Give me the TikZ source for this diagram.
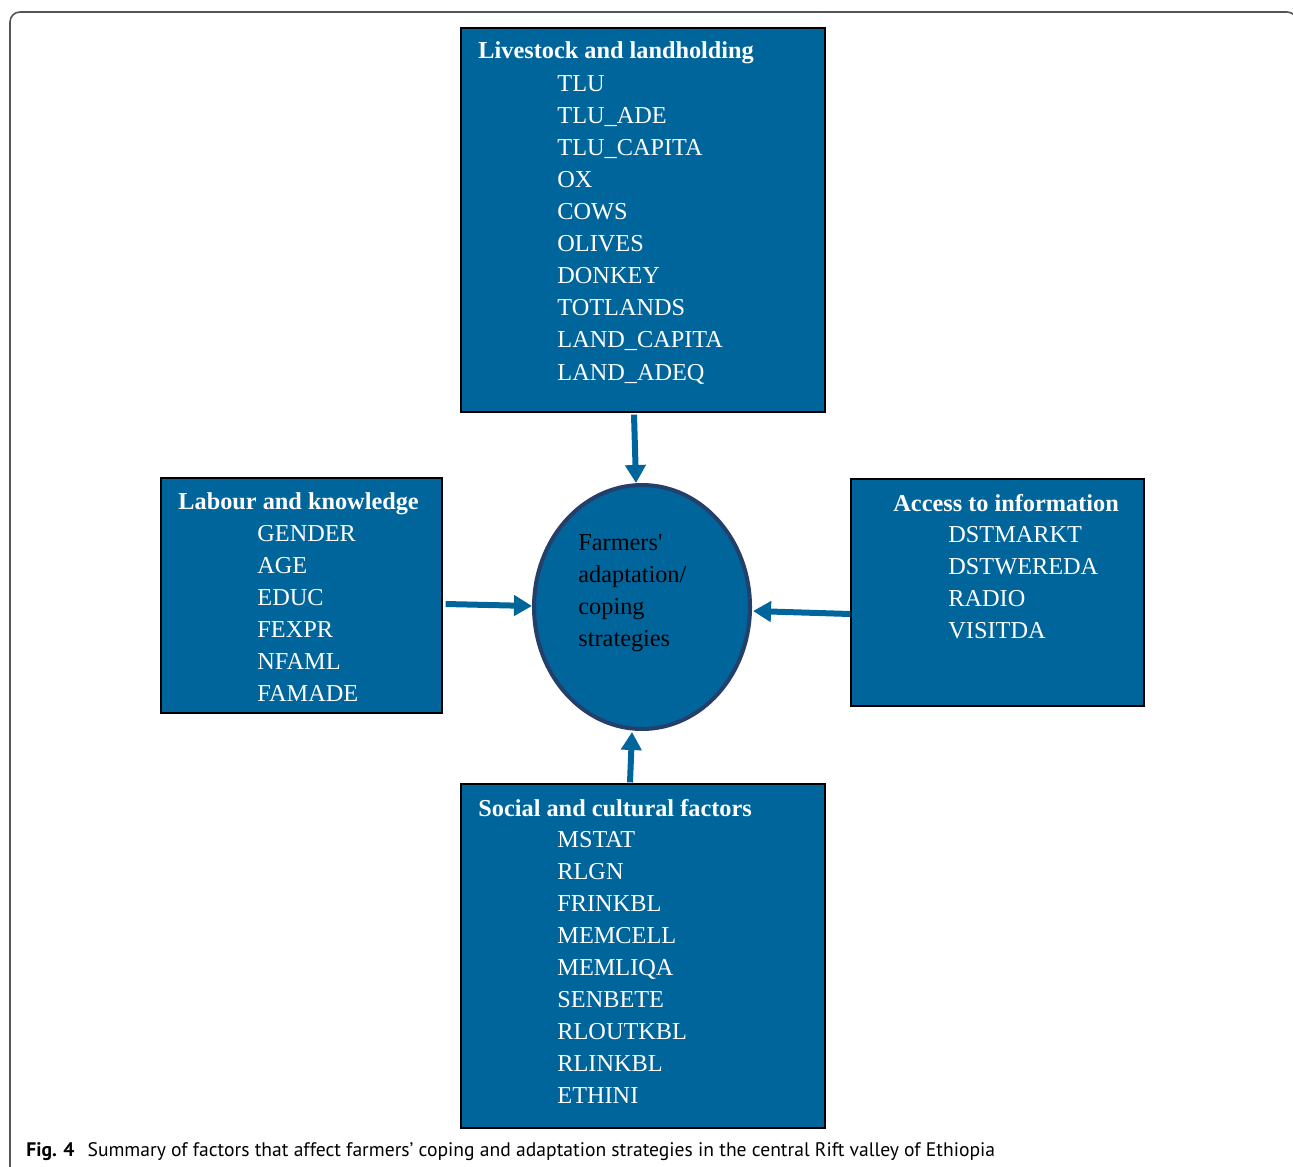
\documentclass[tikz,border=0pt]{standalone}
\usepackage{fontspec}
\setmainfont{Liberation Serif}
\newfontfamily\ellfont{Liberation Serif}[Ligatures=TeXOff]
\newfontfamily\capfont{PT Sans}
\usetikzlibrary{arrows.meta,shapes.geometric}
\definecolor{boxblue}{HTML}{00659B}
\definecolor{ringnavy}{HTML}{243F69}
\definecolor{framegray}{HTML}{555555}
\begin{document}
\begin{tikzpicture}[x=0.5pt,y=-0.5pt,
  box/.style={draw=black, line width=0.6pt, fill=boxblue, inner sep=0pt},
  ttl/.style={anchor=base west, text=white, font=\fontsize{12.15}{14}\selectfont\bfseries, inner sep=0pt},
  itm/.style={anchor=base west, text=white, font=\fontsize{12.15}{14}\selectfont, inner sep=0pt},
  etx/.style={anchor=base west, text=black, font=\ellfont\fontsize{12.15}{14}\selectfont, inner sep=0pt},
  arr/.style={draw=boxblue, line width=3pt, -{Triangle[length=9pt,width=10pt]}}]
\useasboundingbox (0,0) rectangle (1293,1166);
\begin{scope}
\clip (0,0) rectangle (1293,1166);
\draw[framegray, line width=0.8pt, rounded corners=5pt] (10,12) rectangle (1297,1220);
\end{scope}
% boxes
\node[box, minimum width=182pt, minimum height=192pt] (live) at (643,220) {};
\node[box, minimum width=140.5pt, minimum height=117.5pt] (lab) at (301.5,595.5) {};
\node[box, minimum width=146.5pt, minimum height=113.5pt] (acc) at (997.5,592.5) {};
\node[box, minimum width=182pt, minimum height=172pt] (soc) at (643,956) {};
\node[ellipse, draw=ringnavy, line width=2pt, fill=boxblue, inner sep=0pt,
  minimum width=108pt, minimum height=122pt] (ell) at (642,607) {};
% titles
\node[ttl] (liveT) at (478,59) {Livestock and landholding};
\node[ttl] (labT) at (178,509) {Labour and knowledge};
\node[ttl] (accT) at (893,511) {Access to information};
\node[ttl] (socT) at (478,816) {Social and cultural factors};
% items
\foreach \t [count=\i] in {TLU,TLU\_ADE,TLU\_CAPITA,OX,COWS,OLIVES,DONKEY,TOTLANDS,LAND\_CAPITA,LAND\_ADEQ}
  \node[itm] (live\i) at (557,{59+32.1*\i}) {\t};
\foreach \t [count=\i] in {GENDER,AGE,EDUC,FEXPR,NFAML,FAMADE}
  \node[itm] (lab\i) at (257,{509+32*\i}) {\t};
\foreach \t [count=\i] in {DSTMARKT,DSTWEREDA,RADIO,VISITDA}
  \node[itm] (acc\i) at (948,{510+32*\i}) {\t};
\foreach \t [count=\i] in {MSTAT,RLGN,FRINKBL,MEMCELL,MEMLIQA,SENBETE,RLOUTKBL,RLINKBL,ETHINI}
  \node[itm] (soc\i) at (557,{815+32.1*\i}) {\t};
% ellipse text
\foreach \t [count=\i] in {Farmers',adaptation/,coping,strategies}
  \node[etx] (ell\i) at (578,{518+32*\i}) {\t};
% arrows
\draw[arr] ([xshift=-4.5pt,yshift=-1pt]live.south) -- ([xshift=-3pt]ell.north);
\draw[arr] ([xshift=1.5pt,yshift=-4.25pt]lab.east) -- ([yshift=0.5pt]ell.west);
\draw[arr] ([yshift=-10.75pt]acc.west) -- ([xshift=0.5pt,yshift=-2pt]ell.east);
\draw[arr] ([xshift=-6.5pt,yshift=0.5pt]soc.north) -- ([xshift=-5pt,yshift=-0.5pt]ell.south);
% caption
\node[anchor=base west, inner sep=0pt, font=\capfont\fontsize{9.8}{12}\selectfont] (cap) at (26,1156)
  {\textbf{Fig.\,\,4}\hspace{6.5pt}Summary of factors that affect farmers’ coping and adaptation strategies in the central Rift valley of Ethiopia};
\end{tikzpicture}
\end{document}
